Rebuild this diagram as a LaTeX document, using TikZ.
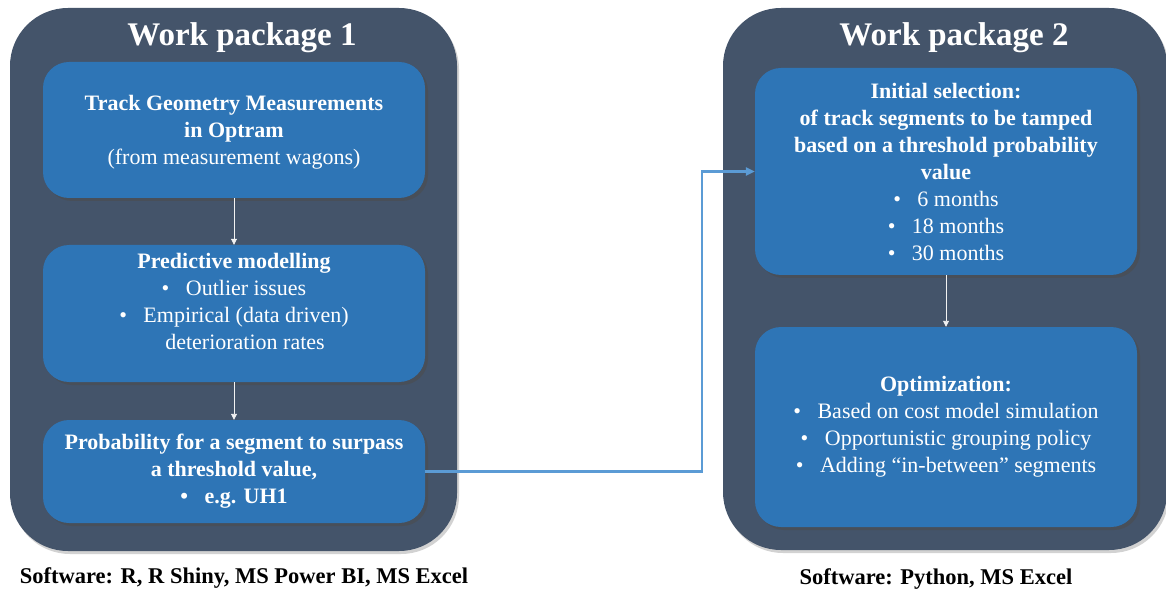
\documentclass[tikz,border=0pt]{standalone}
\usepackage{fontspec}
\setmainfont{Liberation Serif}
\usetikzlibrary{shadows,arrows.meta,calc}
\definecolor{wpdark}{HTML}{44546A}
\definecolor{boxblue}{HTML}{2E75B6}
\definecolor{connblue}{HTML}{5B9BD5}
\tikzset{
  wpbox/.style={rectangle, rounded corners=58pt, fill=wpdark, draw=none,
    drop shadow={shadow xshift=2pt, shadow yshift=-3pt, opacity=0.35, fill=black!50}},
  stepbox/.style={rectangle, rounded corners=26pt, fill=boxblue, draw=none,
    minimum width=382pt, text=white, align=center, inner sep=0pt,
    font=\fontsize{22}{27}\selectfont,
    drop shadow={shadow xshift=3pt, shadow yshift=-3pt, opacity=0.55, fill=black!70}},
  wptitle/.style={text=white, font=\fontsize{33}{36}\selectfont\bfseries, inner sep=0pt},
  swlabel/.style={text=black, font=\fontsize{22.5}{25}\selectfont\bfseries, inner sep=0pt},
  flow/.style={draw=white!90!gray, line width=0.9pt, -{Triangle[length=6pt,width=6pt]}},
  conn/.style={draw=connblue, line width=2.5pt, -{Triangle[length=9pt,width=8pt]}}
}
\newcommand{\bul}{\textbullet\hspace{0.75em}}
\begin{document}
\begin{tikzpicture}[x=1pt,y=-1pt]
\useasboundingbox (0,0) rectangle (1166,593);
\fill[white] (0,0) rectangle (1166,593);

% work packages
\node[wpbox, minimum width=447pt, minimum height=543pt] (wp1) at (233.5,279.5) {};
\node[wpbox, minimum width=444pt, minimum height=542pt] (wp2) at (945,279) {};

\node[wptitle] (t1) at (242,38) {Work package 1};
\node[wptitle] (t2) at (954,38) {Work package 2};

% WP1 steps
\node[stepbox, minimum height=136pt, text depth=-4pt] (b1) at (234,130)
  {\textbf{Track Geometry Measurements}\\\textbf{in Optram}\\(from measurement wagons)};
\node[stepbox, minimum height=137pt] (b2) at (234,313.5)
  {\textbf{Predictive modelling}\\\bul Outlier issues\\\bul Empirical (data driven)\\\hspace*{22pt}deterioration rates\\[-3pt]\mbox{}};
\node[stepbox, minimum height=103pt] (b3) at (234,471.5)
  {\textbf{Probability for a segment to surpass}\\\textbf{a threshold value,}\\\textbf{\bul e.g. UH1}};

% WP2 steps
\node[stepbox, minimum height=207pt] (b4) at (946,171.5)
  {\textbf{Initial selection:}\\\textbf{of track segments to be tamped}\\\textbf{based on a threshold probability}\\\textbf{value}\\\bul 6 months\\\bul 18 months\\\bul 30 months};
\node[stepbox, minimum height=200pt] (b5) at (946,427)
  {\textbf{Optimization:}\\\bul Based on cost model simulation\\\bul Opportunistic grouping policy\\\bul Adding “in-between” segments};

% flows
\draw[flow] (b1.south) -- (b2.north);
\draw[flow] (b2.south) -- (b3.north);
\draw[flow] (b4.south) -- (b5.north);

\coordinate (bend) at (702,0);
\draw[conn] (b3.east) -- (b3.east -| bend) |- (b4.west);

% software labels
\node[swlabel] (s1) at (244,578) {Software: R, R Shiny, MS Power BI, MS Excel};
\node[swlabel] (s2) at (936,579) {Software: Python, MS Excel};
\end{tikzpicture}
\end{document}
